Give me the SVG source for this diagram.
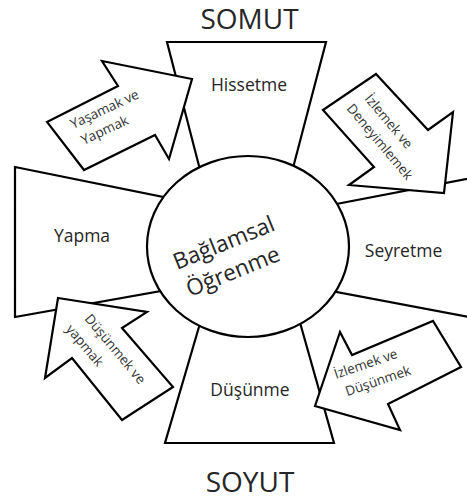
<svg xmlns="http://www.w3.org/2000/svg" width="467" height="501" viewBox="0 0 467 501">
<style>
.s{fill:#fff;stroke:#000;stroke-width:2.2;stroke-linejoin:miter}
.t{font-family:"Open Sans","Liberation Sans",sans-serif;fill:#262626}
.big{font-size:28px;text-anchor:middle}
.lab{font-size:17.5px;text-anchor:middle}
.ar{font-size:13.5px;fill:#333}
.c{font-size:22.5px}
</style>
<rect width="467" height="501" fill="#fff"/>
<text class="t big" x="249.5" y="29">SOMUT</text>
<text class="t big" x="250" y="492">SOYUT</text>
<g id="hissetme">
<polygon class="s" points="167,42 326,42 284.6,200 207.8,200"/>
<text class="t lab" x="249" y="91">Hissetme</text>
</g>
<g id="yapma">
<polygon class="s" points="15,167 200,204.5 200,284 15,317"/>
<text class="t lab" x="82" y="242">Yapma</text>
</g>
<g id="seyretme">
<polygon class="s" points="300,211 480,176.5 480,319 300,285"/>
<text class="t lab" x="403.5" y="257">Seyretme</text>
</g>
<g id="dusunme">
<polygon class="s" points="209.8,290 290.8,290 334,443 165,443"/>
<text class="t lab" x="250" y="396">Düşünme</text>
</g>
<g id="baglamsal">
<ellipse class="s" cx="248" cy="246.5" rx="101" ry="90.5"/>
<g transform="translate(177,270) rotate(-22)">
<text class="t c" x="0" y="0">Bağlamsal</text>
<text class="t c" x="2" y="30">Öğrenme</text>
</g>
</g>
<g id="connectors">
<g id="arrow-yasamak">
<polygon class="s" points="47,122 118,86 102,61 192,79 169,159 155,135 84,170"/>
<g transform="translate(73,129) rotate(-25)">
<text class="t ar" x="0" y="0">Yaşamak ve</text>
<text class="t ar" x="3" y="19">Yapmak</text>
</g>
</g>
<g id="arrow-izlemek-deneyimlemek">
<polygon class="s" points="376,74 428,130 453,112 444,193 349,185 374,167 323,110"/>
<g transform="translate(364,99) rotate(50)">
<text class="t ar" x="0" y="0">İzlemek ve</text>
<text class="t ar" x="-4" y="20">Deneyimlemek</text>
</g>
</g>
<g id="arrow-dusunmek-yapmak">
<polygon class="s" points="58,298 147,312 122,328 173,387 122,420 72,358 45,378"/>
<g transform="translate(84,319) rotate(50)">
<text class="t ar" x="0" y="0">Düşünmek  ve</text>
<text class="t ar" x="-4" y="21">yapmak</text>
</g>
</g>
<g id="arrow-izlemek-dusunmek">
<polygon class="s" points="315,406 340,332 352,355 433,321 461,367 388,404 400,430"/>
<g transform="translate(336,379) rotate(-19)">
<text class="t ar" x="0" y="0">İzlemek ve</text>
<text class="t ar" x="5" y="20">Düşünmek</text>
</g>
</g>
</g>
</svg>
